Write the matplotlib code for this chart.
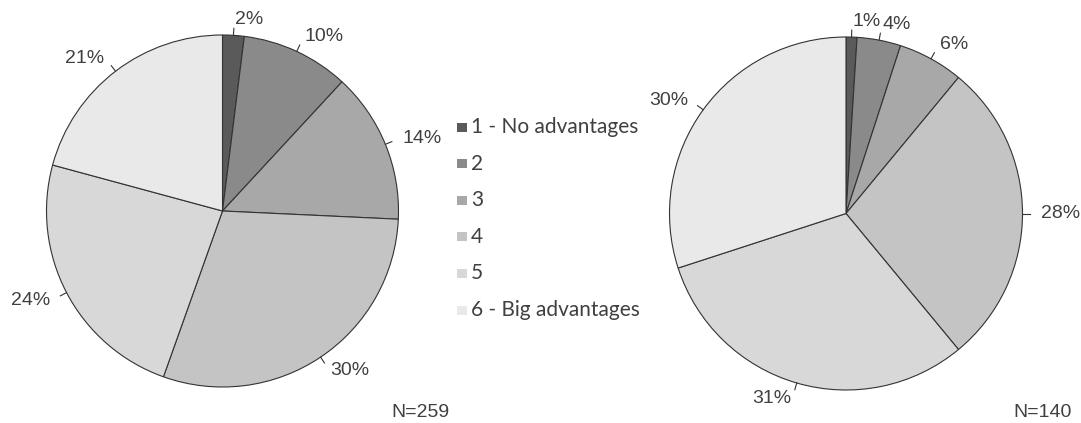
import numpy as np
import matplotlib
matplotlib.use('Agg')
import matplotlib.pyplot as plt
import matplotlib.patches as patches

# Data
categories = ['1 - No advantages', '2', '3', '4', '5', '6 - Big advantages']
left_values = [2, 10, 14, 30, 24, 21]
right_values = [1, 4, 6, 28, 31, 30]
left_n = 'N=259'
right_n = 'N=140'
colors = ['#5a5a5a', '#8a8a8a', '#a8a8a8', '#c4c4c4', '#d8d8d8', '#e9e9e9']

W, H = 1081, 423
fig = plt.figure(figsize=(W / 100, H / 100), dpi=100)
ax = fig.add_axes([0, 0, 1, 1])

label_font = dict(family=['Liberation Sans', 'DejaVu Sans'], size=14, color='#404040')


#############################################################################
# One pie with little ticks and percentage labels outside the edge
def draw_pie(values, cx, cy, r):
    wedges, _ = ax.pie(values, colors=colors, startangle=90, counterclock=False,
                       center=(cx, cy), radius=r,
                       wedgeprops=dict(edgecolor='#333333', linewidth=0.8))
    for w, v in zip(wedges, values):
        ang = np.deg2rad((w.theta1 + w.theta2) / 2.0)
        dx, dy = np.cos(ang), np.sin(ang)
        ax.plot([cx + dx * r, cx + dx * (r + 7)], [cy + dy * r, cy + dy * (r + 7)],
                color='#333333', linewidth=0.8)
        ha = 'left' if dx > 0 else 'right'
        ax.text(cx + dx * (r + 18), cy + dy * (r + 16), '%d%%' % v,
                ha=ha, va='center', **label_font)


draw_pie(left_values, 222.5, H - 211, 176)
draw_pie(right_values, 846, H - 213.5, 176.5)

ax.text(420, H - 412, left_n, ha='center', va='center', **label_font)
ax.text(1043, H - 412, right_n, ha='center', va='center', **label_font)

# Legend in the middle
for i, (lab, col) in enumerate(zip(categories, colors)):
    y = H - (127 + i * 36.6)
    ax.add_patch(patches.Rectangle((457, y - 4.5), 10, 9, facecolor=col, edgecolor='none'))
    ax.text(471, y, lab, ha='left', va='center',
            family=['Lato', 'DejaVu Sans'], size=15, color='#404040')

# pie() autoscales, so fix the pixel frame afterwards
ax.set_aspect('equal')
ax.set_xlim(0, W)
ax.set_ylim(0, H)
ax.axis('off')

plt.savefig('out.png', dpi=100)
plt.close()
